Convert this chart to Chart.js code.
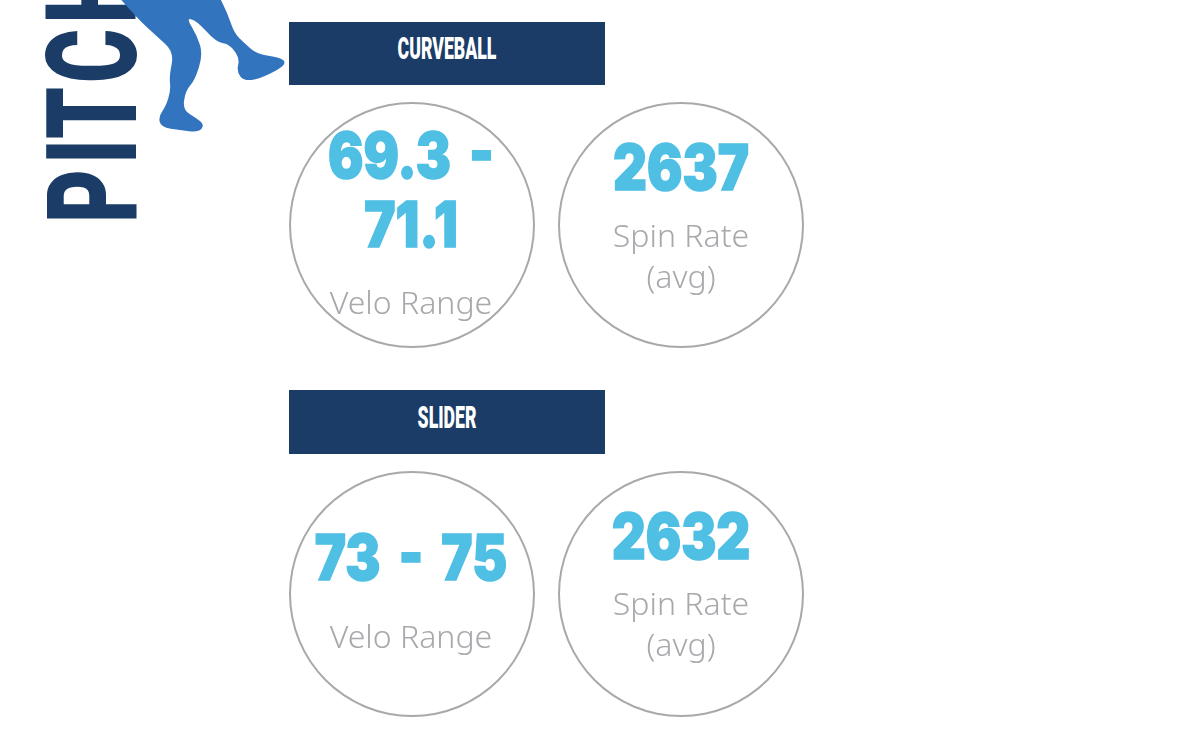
<!DOCTYPE html>
<html>
<head>
<meta charset="utf-8">
<title>Pitching</title>
<script src="https://cdn.jsdelivr.net/npm/chart.js@4"></script>
<style>
  html, body { margin: 0; padding: 0; background: #fff; }
  body { width: 1200px; height: 751px; position: relative; overflow: hidden; }
  .ring { position: absolute; width: 250px; height: 250px; }
  .banner { position: absolute; left: 288.5px; width: 316.5px; height: 63.5px; background: #1a3c66; }
  .txt { position: absolute; white-space: nowrap; transform: translateX(-50%) scaleX(var(--sx, 1)); }
  .pitch { font: 900 31px/0 Roboto, sans-serif; color: #fff; --sx: 0.57; }
  .big { font: 900 63px/0 Inter, sans-serif; color: #4fbfe4; -webkit-text-stroke: 1.5px #4fbfe4; word-spacing: 9px; --sx: 0.835; }
  .small { font: 300 32px/0 "Noto Sans", sans-serif; color: #a7a9ac; --sx: 1; }
  #word { position: absolute; left: 93px; top: 223px; transform-origin: 0 0; transform: rotate(-90deg) scaleX(0.65);
    font: 900 127px/0 Roboto, sans-serif; color: #1a3c66; white-space: nowrap; letter-spacing: 8px; }
  #word .tight { letter-spacing: 0; }
  #figure { position: absolute; left: 0; top: 0; }
</style>
</head>
<body>
<div id="word">P<span class="tight">I</span>TCH</div>
<svg id="figure" width="300" height="230" viewBox="0 0 900 690">
  <path id="figurePath" fill="#3274bd" stroke="#3274bd" stroke-width="5" stroke-linejoin="round"/>
</svg>
<script>
// values
const pitchTypes = ['CURVEBALL', 'SLIDER'];
const veloRanges = [['69.3 -', '71.1'], ['73 - 75']];
const spinRates = ['2637', '2632'];
const veloLabel = ['Velo Range'];
const spinLabel = ['Spin Rate', '(avg)'];
const ringValues = [1];

// page layout, one row per pitch
const bannerTops = [21.5, 390];
const bannerBaselines = [60, 429];
const ringCentersX = [411.5, 681];
const ringCentersY = [225, 593.5];
const veloBaselines = [[178, 247, 313], [580, 647]];
const spinBaselines = [[190, 246, 287], [559, 614, 655]];

// outline of the pitcher's legs, rounded off between the points
const legOutline = [[350, -20], [410, 50], [470, 105], [525, 155], [510, 230], [515, 270], [500, 320], [478, 350], [485, 380],
  [540, 388], [595, 394], [610, 375], [590, 358], [545, 330], [555, 270], [582, 240], [606, 165], [590, 110], [555, 52], [590, 58],
  [650, 125], [690, 130], [722, 175], [712, 215], [735, 242], [790, 230], [858, 192], [840, 175], [770, 165], [730, 130],
  [700, 100], [680, 40], [650, -20]];

function legPath() {
  let d = 'M' + legOutline[0].join(' ');
  for (let i = 1; i < legOutline.length - 1; i++) {
    const [x, y] = legOutline[i];
    const [nx, ny] = legOutline[i + 1];
    d += ` Q${x} ${y} ${(x + nx) / 2} ${(y + ny) / 2}`;
  }
  return d + ' L' + legOutline[legOutline.length - 1].join(' ') + ' Z';
}
document.getElementById('figurePath').setAttribute('d', legPath());

function addText(str, cx, baseline, cls) {
  const el = document.createElement('div');
  el.className = 'txt ' + cls;
  el.textContent = str;
  el.style.left = cx + 'px';
  el.style.top = baseline + 'px';
  document.body.appendChild(el);
}

function addRing(cx, cy) {
  const canvas = document.createElement('canvas');
  canvas.className = 'ring';
  canvas.style.left = (cx - 125) + 'px';
  canvas.style.top = (cy - 125) + 'px';
  document.body.appendChild(canvas);
  new Chart(canvas.getContext('2d'), {
    type: 'doughnut',
    data: { datasets: [{ data: ringValues, backgroundColor: '#a8a9ab', borderWidth: 0 }] },
    options: {
      responsive: false,
      animation: false,
      cutout: 121,
      layout: { padding: 2 },
      plugins: { legend: { display: false }, tooltip: { enabled: false } }
    }
  });
}

pitchTypes.forEach((name, i) => {
  const banner = document.createElement('div');
  banner.className = 'banner';
  banner.style.top = bannerTops[i] + 'px';
  document.body.appendChild(banner);
  addText(name, 447, bannerBaselines[i] - 11, 'pitch');

  addRing(ringCentersX[0], ringCentersY[i]);
  addRing(ringCentersX[1], ringCentersY[i]);

  const veloLines = veloRanges[i].concat(veloLabel);
  veloLines.forEach((line, j) => {
    const isLabel = j === veloLines.length - 1;
    addText(line, 411, veloBaselines[i][j] - (isLabel ? 11 : 23), isLabel ? 'small' : 'big');
  });

  addText(spinRates[i], 681, spinBaselines[i][0] - 23, 'big');
  spinLabel.forEach((line, j) => addText(line, 681, spinBaselines[i][j + 1] - 11, 'small'));
});
</script>
</body>
</html>
